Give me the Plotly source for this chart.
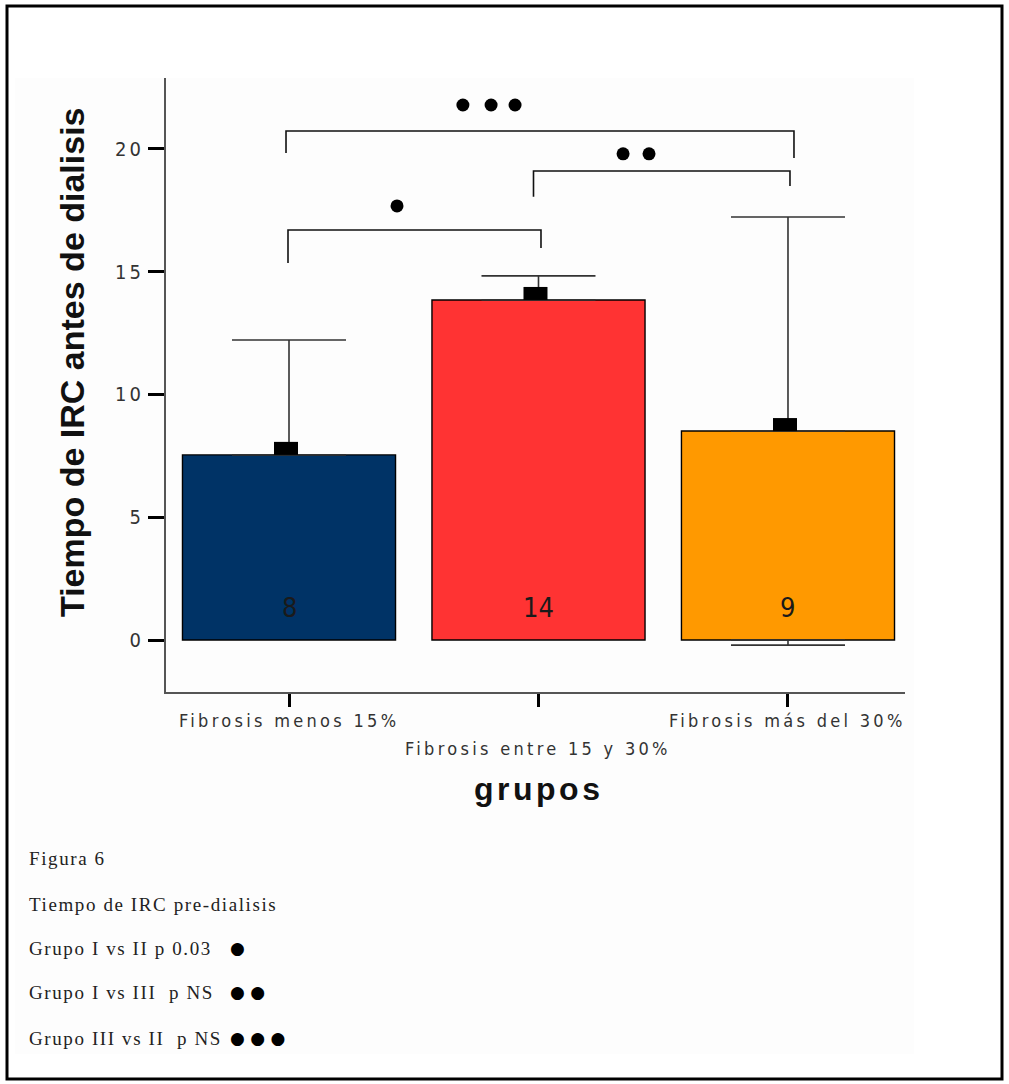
import plotly.graph_objects as go

# ---------------- data ----------------
categories = ["Fibrosis menos 15%", "Fibrosis entre 15 y 30%", "Fibrosis más del 30%"]
means = [7.54, 13.85, 8.51]
sd = [4.68, 0.98, 8.72]
counts = [8, 14, 9]
bar_colors = ["#003366", "#FF3333", "#FF9900"]
yticks = [0, 5, 10, 15, 20]

# significance brackets (data units)
br_x0 = [-0.004, 0.98, -0.012]
br_x1 = [1.01, 2.008, 2.024]
br_yl = [15.36, 18.05, 19.84]
br_yt = [16.7, 19.1, 20.73]
br_yr = [15.97, 18.49, 19.63]
dots_x = [[0.433], [1.339, 1.443], [0.697, 0.81, 0.906]]
dots_y = [17.68, 19.8, 21.79]

legend_lines = ["Figura 6", "Tiempo de IRC pre-dialisis", "Grupo I vs II p 0.03",
                "Grupo I vs III  p NS", "Grupo III vs II  p NS"]
legend_dots = ["", "", "●", "● ●", "● ● ●"]

# ---------------- layout geometry ----------------
W, H = 1009, 1084
L, R, T, B = 166, 905, 78, 692  # plot area in pixels

NARROW = "Liberation Sans Narrow, Arial Narrow, DejaVu Sans Condensed, Liberation Sans"


def px(xp):
    return (xp - L) / (R - L)


def py(yp):
    return (B - yp) / (B - T)


def ls(text, sp):
    return f'<span style="letter-spacing:{sp}px">{text}</span>'


xpos = list(range(len(categories)))

fig = go.Figure()

# bars with upper error bars
fig.add_trace(go.Bar(
    x=xpos, y=means, width=0.854,
    marker=dict(color=bar_colors, line=dict(color="black", width=1.4)),
    error_y=dict(type="data", symmetric=False, array=sd, arrayminus=[0] * len(sd),
                 color="#333333", thickness=1.6, width=57),
    showlegend=False, hoverinfo="skip",
))

# visible lower part of the error bars that go below zero
low_idx = [i for i in xpos if means[i] - sd[i] < 0]
if low_idx:
    fig.add_trace(go.Scatter(
        x=low_idx, y=[0] * len(low_idx), mode="markers",
        marker=dict(size=1, opacity=0),
        error_y=dict(type="data", symmetric=False, array=[0] * len(low_idx),
                     arrayminus=[sd[i] - means[i] for i in low_idx],
                     color="#333333", thickness=1.6, width=57),
        showlegend=False, hoverinfo="skip",
    ))

# brackets
for i in range(len(br_x0)):
    fig.add_trace(go.Scatter(
        x=[br_x0[i], br_x0[i], br_x1[i], br_x1[i]],
        y=[br_yl[i], br_yt[i], br_yt[i], br_yr[i]],
        mode="lines", line=dict(color="#111111", width=1.6),
        showlegend=False, hoverinfo="skip",
    ))
    fig.add_trace(go.Scatter(
        x=dots_x[i], y=[dots_y[i]] * len(dots_x[i]), mode="markers",
        marker=dict(symbol="circle", size=13, color="black"),
        showlegend=False, hoverinfo="skip",
    ))

shapes = []
# outer frame and light panel
shapes.append(dict(type="rect", xref="paper", yref="paper",
                   x0=px(15), x1=px(914), y0=py(1054), y1=py(78),
                   fillcolor="#fdfdfd", line=dict(width=0), layer="below"))
shapes.append(dict(type="rect", xref="paper", yref="paper",
                   x0=px(7), x1=px(1002), y0=py(1079), y1=py(6),
                   line=dict(color="black", width=3)))
# mean squares on top of bars
for i in xpos:
    shapes.append(dict(type="rect", xref="x", yref="y",
                       xsizemode="pixel", ysizemode="pixel",
                       xanchor=i, yanchor=means[i],
                       x0=-15, x1=9, y0=0, y1=13,
                       fillcolor="black", line=dict(width=0)))

annotations = []
# counts inside bars
for i in xpos:
    annotations.append(dict(x=i, y=0, xref="x", yref="y", yshift=33,
                            text=str(counts[i]), showarrow=False,
                            font=dict(family=NARROW, size=27, color="#1a1a1a")))
# category labels (staggered)
for i in xpos:
    ypix = 720 if i % 2 == 0 else 748
    annotations.append(dict(x=i, y=py(ypix), xref="x", yref="paper",
                            text=ls(categories[i], 3.3), showarrow=False,
                            xanchor="center", yanchor="middle",
                            font=dict(family=NARROW, size=18, color="#333333")))
# axis titles
annotations.append(dict(x=px(538), y=py(789), xref="paper", yref="paper",
                        text="<b>" + ls("grupos", 3.5) + "</b>", showarrow=False,
                        xanchor="center", yanchor="middle",
                        font=dict(family="Liberation Sans", size=32, color="#111111")))
annotations.append(dict(x=px(72), y=py(362), xref="paper", yref="paper",
                        text="<b>Tiempo de IRC antes de dialisis</b>", showarrow=False,
                        textangle=-90, xanchor="center", yanchor="middle",
                        font=dict(family="Liberation Sans", size=34, color="#111111")))
# caption text
cap_y = [858, 904, 948, 992, 1038]
for j, line in enumerate(legend_lines):
    annotations.append(dict(x=px(27), y=py(cap_y[j]), xref="paper", yref="paper",
                            text=ls(line, 1.6), showarrow=False,
                            xanchor="left", yanchor="middle",
                            font=dict(family="Liberation Serif", size=19, color="#222222")))
    if legend_dots[j]:
        annotations.append(dict(x=px(228), y=py(cap_y[j]), xref="paper", yref="paper",
                                text=legend_dots[j], showarrow=False,
                                xanchor="left", yanchor="middle",
                                font=dict(family="DejaVu Sans", size=17, color="black")))

fig.update_layout(
    width=W, height=H,
    margin=dict(l=L, r=W - R, t=T, b=H - B, pad=0),
    paper_bgcolor="white", plot_bgcolor="rgba(0,0,0,0)",
    shapes=shapes, annotations=annotations,
    showlegend=False,
    xaxis=dict(range=[-0.493, 2.469], tickvals=xpos, ticktext=[""] * len(xpos),
               ticks="outside", ticklen=13, tickwidth=3, tickcolor="black",
               showline=True, linecolor="#555555", linewidth=2,
               showgrid=False, zeroline=False, fixedrange=True),
    yaxis=dict(range=[-2.118, 22.89], tickvals=yticks,
               ticktext=[ls(str(v), 3) for v in yticks],
               ticks="outside", ticklen=16, tickwidth=3, tickcolor="black",
               tickfont=dict(family=NARROW, size=20, color="#333333"),
               showline=True, linecolor="#555555", linewidth=2,
               showgrid=False, zeroline=False, fixedrange=True),
)

fig.write_html("out.html",
               config={"displayModeBar": False, "staticPlot": True},
               post_script="document.body.style.margin='0';document.body.style.padding='0';")
